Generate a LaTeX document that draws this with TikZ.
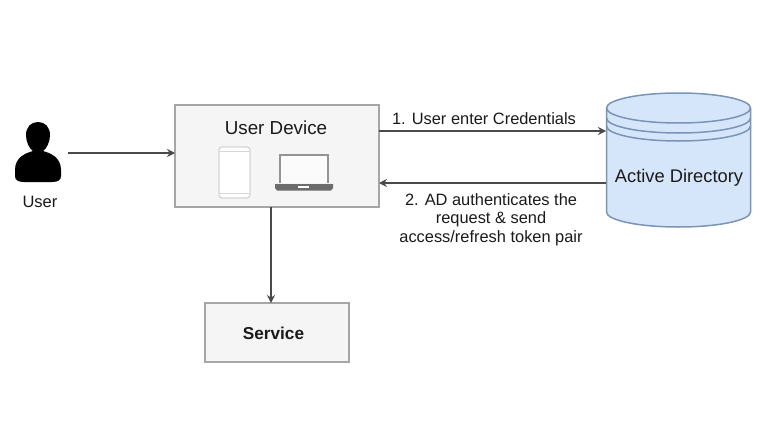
\documentclass[tikz,border=0pt]{standalone}
\usepackage{fontspec}
\setmainfont{Liberation Sans}
\usetikzlibrary{arrows.meta}
\definecolor{boxfill}{HTML}{F5F5F5}
\definecolor{boxline}{HTML}{A6A6A6}
\definecolor{cylfill}{HTML}{D6E6FA}
\definecolor{cylline}{HTML}{7A94B8}
\definecolor{conn}{HTML}{4A4A4A}
\definecolor{txt}{HTML}{1A1A1A}
\tikzset{
  x=1pt,y=-1pt,
  box/.style={draw=boxline,fill=boxfill,line width=1.5pt,minimum width=#1,inner sep=0pt,outer sep=0pt,anchor=north west},
  link/.style={draw=conn,line width=1.3pt,-{Stealth[length=8pt,width=8pt]}},
  lab/.style={text=txt,inner sep=0pt,align=center},
  cyl/.style={draw=cylline,line width=1.5pt},
  ghost/.style={inner sep=0pt,outer sep=0pt,anchor=north west}
}
\begin{document}
\begin{tikzpicture}
\useasboundingbox (0,0) rectangle (762,428);
\fill[white] (0,0) rectangle (762,428);
% boxes
\node[box=204pt,minimum height=102pt] (device) at (175,105) {};
\node[box=144pt,minimum height=59pt] (service) at (205,303) {};
\node[lab,font=\fontsize{18.8}{20}\selectfont] (devlabel) at (276,127.5) {User Device};
\node[lab,font=\bfseries\fontsize{17.2}{20}\selectfont] (svclabel) at (273.5,333.5) {Service};
% cylinder
\path[cyl,fill=cylfill] (606.5,108) -- (606.5,212) arc[start angle=180,end angle=0,x radius=72,y radius=15] -- (750.5,108) arc[start angle=0,end angle=180,x radius=72,y radius=-15] -- cycle;
\draw[cyl] (606.5,108) arc[start angle=180,end angle=0,x radius=72,y radius=15];
\draw[cyl] (606.5,118) arc[start angle=180,end angle=0,x radius=72,y radius=15];
\draw[cyl] (606.5,126) arc[start angle=180,end angle=0,x radius=72,y radius=15];
\node[ghost,minimum width=145pt,minimum height=134pt] (ad) at (606,93) {};
\node[lab,font=\fontsize{18.3}{20}\selectfont] (adlabel) at (679,177.5) {Active Directory};
% user icon
\fill[black] (38,122) .. controls (31,122) and (26,127) .. (26,135) .. controls (26,142) and (29,148) .. (33,151) .. controls (26,153) and (15,157) .. (15,170) -- (15,176) .. controls (15,180) and (18,182) .. (24,182) -- (52,182) .. controls (58,182) and (61,180) .. (61,176) -- (61,170) .. controls (61,157) and (50,153) .. (43,151) .. controls (47,148) and (50,142) .. (50,135) .. controls (50,127) and (45,122) .. (38,122) -- cycle;
\node[ghost,minimum width=53pt,minimum height=60pt] (usericon) at (15,122) {};
\node[lab,font=\fontsize{16.5}{18}\selectfont] (userlabel) at (40,202) {User};
% phone
\draw[draw=boxline!45,fill=white,line width=1.4pt,rounded corners=3pt] (219,147) rectangle (250,198);
\draw[draw=boxline!45,line width=1pt] (219,151) -- (250,151) (219,193) -- (250,193);
% laptop
\draw[draw=gray!85,fill=white!97!gray,line width=1.4pt] (280,183) -- (280,155) -- (328,155) -- (328,183);
\fill[gray!85!black] (275,184) -- (333,184) -- (333,188) -- (331,190.5) -- (277,190.5) -- (275,188) -- cycle;
\fill[white] (298,185.5) rectangle (309,187.5);
% connectors
\draw[link] (usericon.east |- 0,153) -- (device.west |- 0,153);
\draw[link] ([yshift=25pt]device.east) -- (ad.west |- 0,131);
\draw[link] (ad.west |- 0,183) -- ([yshift=-27pt]device.east);
\draw[link] (device.south -| 271,0) -- (service.north -| 271,0);
% labels
\node[lab,font=\fontsize{16.4}{17}\selectfont] (l1) at (484,118.5) {1. User enter Credentials};
\node[lab,font=\fontsize{16.4}{18.3}\selectfont] (l2) at (491,219.5) {2. AD authenticates the\\request \& send\\access/refresh token pair};
\end{tikzpicture}
\end{document}
